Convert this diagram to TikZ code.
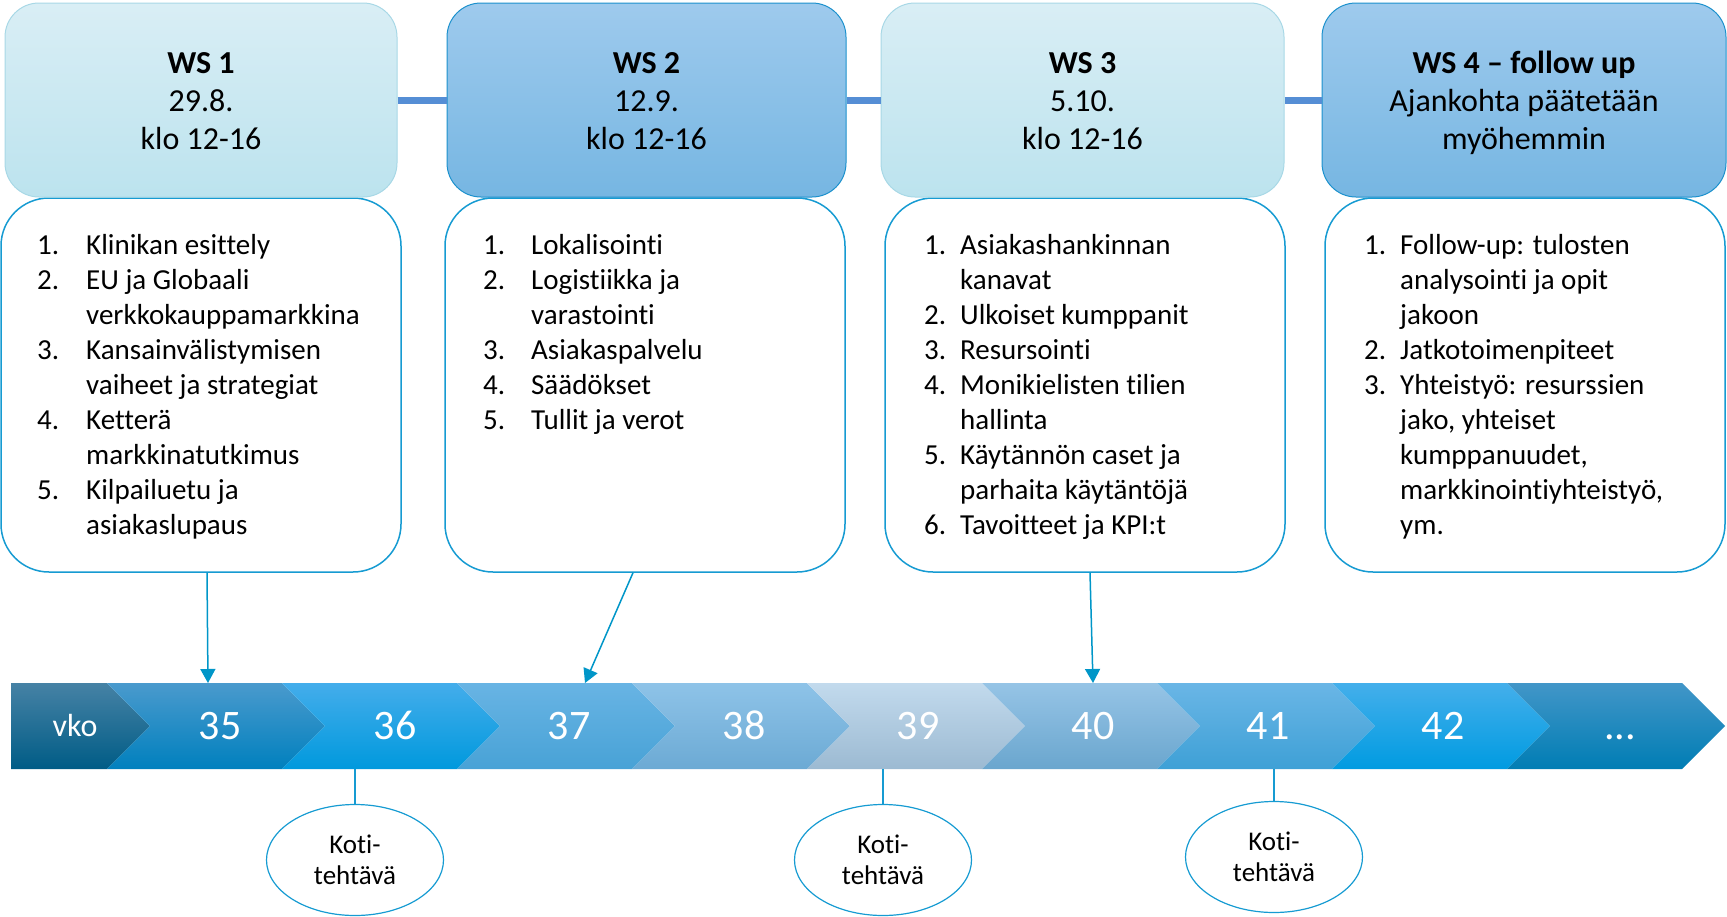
\documentclass[tikz,border=0pt]{standalone}
\usepackage{fontspec}
\setmainfont{Carlito}[Ligatures=NoCommon]
\usetikzlibrary{arrows.meta,shapes.geometric,calc}

\definecolor{hlT}{RGB}{217,238,245}
\definecolor{hlB}{RGB}{188,227,238}
\definecolor{hlD}{RGB}{168,216,230}
\definecolor{hdT}{RGB}{158,202,237}
\definecolor{hdB}{RGB}{118,182,226}
\definecolor{hdD}{RGB}{28,145,205}
\definecolor{boxline}{RGB}{22,155,210}
\definecolor{arrcol}{RGB}{0,150,200}
\definecolor{linkcol}{RGB}{85,142,213}
\definecolor{segT0}{RGB}{70,130,165}\definecolor{segB0}{RGB}{0,92,134}
\definecolor{segT1}{RGB}{74,154,205}\definecolor{segB1}{RGB}{0,128,190}
\definecolor{segT2}{RGB}{68,173,235}\definecolor{segB2}{RGB}{0,153,221}
\definecolor{segT3}{RGB}{104,180,228}\definecolor{segB3}{RGB}{72,162,214}
\definecolor{segT4}{RGB}{142,195,232}\definecolor{segB4}{RGB}{108,170,212}
\definecolor{segT5}{RGB}{194,218,237}\definecolor{segB5}{RGB}{156,186,210}
\definecolor{segT6}{RGB}{150,196,230}\definecolor{segB6}{RGB}{106,166,206}
\definecolor{segT7}{RGB}{106,182,230}\definecolor{segB7}{RGB}{62,160,214}
\definecolor{segT8}{RGB}{68,175,235}\definecolor{segB8}{RGB}{0,155,225}
\definecolor{segT9}{RGB}{66,150,200}\definecolor{segB9}{RGB}{0,125,180}

\newcommand\hdrfnt{\fontsize{32}{38}\selectfont}
\newcommand\lstfnt{\fontsize{29}{35}\selectfont}
\newcommand\nb[2]{\strut\makebox[#1][l]{#2}}
\newcommand\ind[1]{\strut\hspace*{#1}}

\begin{document}
\begin{tikzpicture}[x=1pt,y=-1pt,
  hdrlight/.style={rounded corners=34pt, draw=hlD, line width=1pt, top color=hlT, bottom color=hlB,
    minimum height=194pt, inner sep=0pt},
  hdrdark/.style={rounded corners=34pt, draw=hdD, line width=1pt, top color=hdT, bottom color=hdB,
    minimum height=194pt, inner sep=0pt},
  hdrtext/.style={anchor=north, inner sep=0pt, align=center, font=\hdrfnt},
  contentbox/.style={draw=boxline, line width=1.5pt, fill=white, rounded corners=48pt,
    minimum height=374pt, minimum width=400pt, inner sep=0pt},
  listtext/.style={anchor=north west, inner sep=0pt, align=left, font=\lstfnt},
  link/.style={draw=linkcol, line width=7pt},
  arr/.style={draw=arrcol, line width=1.5pt, -{Triangle[width=15pt,length=14pt]}},
  tick/.style={draw=boxline, line width=1.2pt},
  oval/.style={ellipse, draw=boxline, line width=1.2pt, minimum width=177pt, minimum height=111pt,
    inner sep=0pt, align=center, font=\fontsize{27}{31}\selectfont},
  seglbl/.style={anchor=base, text=white, inner sep=0pt, font=\fontsize{42}{42}\selectfont}
]
\useasboundingbox (0,0) rectangle (1727,916);

% content boxes
\node[contentbox] (c1) at (201,385) {};
\node[contentbox] (c2) at (645,385) {};
\node[contentbox] (c3) at (1085,385) {};
\node[contentbox] (c4) at (1525,385) {};

% headers
\node[hdrlight, minimum width=392pt] (h1) at (201,100) {};
\node[hdrdark, minimum width=399pt] (h2) at (646.5,100) {};
\node[hdrlight, minimum width=403pt] (h3) at (1082.5,100) {};
\node[hdrdark, minimum width=404pt] (h4) at (1524,100) {};
\node[hdrtext] (ht1) at (201,46.4) {\strut\textbf{WS 1}\\\strut 29.8.\\\strut klo 12-16};
\node[hdrtext] (ht2) at (646.5,46.4) {\strut\textbf{WS 2}\\\strut 12.9.\\\strut klo 12-16};
\node[hdrtext] (ht3) at (1082.5,46.4) {\strut\textbf{WS 3}\\\strut 5.10.\\\strut klo 12-16};
\node[hdrtext] (ht4) at (1524,46.4) {\strut\textbf{WS 4 – follow up}\\\strut Ajankohta päätetään\\\strut myöhemmin};
\draw[link] (h1.east) -- (h2.west);
\draw[link] (h2.east) -- (h3.west);
\draw[link] (h3.east) -- (h4.west);

% lists
\node[listtext] (t1) at (37,229.5) {%
\nb{49pt}{1.}Klinikan esittely\\
\nb{49pt}{2.}EU ja Globaali\\
\ind{49pt}verkkokauppamarkkina\\
\nb{49pt}{3.}Kansainvälistymisen\\
\ind{49pt}vaiheet ja strategiat\\
\nb{49pt}{4.}Ketterä\\
\ind{49pt}markkinatutkimus\\
\nb{49pt}{5.}Kilpailuetu ja\\
\ind{49pt}asiakaslupaus};
\node[listtext] (t2) at (483,229.5) {%
\nb{48pt}{1.}Lokalisointi\\
\nb{48pt}{2.}Logistiikka ja\\
\ind{48pt}varastointi\\
\nb{48pt}{3.}Asiakaspalvelu\\
\nb{48pt}{4.}Säädökset\\
\nb{48pt}{5.}Tullit ja verot};
\node[listtext] (t3) at (924,229.5) {%
\nb{36pt}{1.}Asiakashankinnan\\
\ind{36pt}kanavat\\
\nb{36pt}{2.}Ulkoiset kumppanit\\
\nb{36pt}{3.}Resursointi\\
\nb{36pt}{4.}Monikielisten tilien\\
\ind{36pt}hallinta\\
\nb{36pt}{5.}Käytännön caset ja\\
\ind{36pt}parhaita käytäntöjä\\
\nb{36pt}{6.}Tavoitteet ja KPI:t};
\node[listtext] (t4) at (1364,229.5) {%
\nb{36pt}{1.}Follow-up: tulosten\\
\ind{36pt}analysointi ja opit\\
\ind{36pt}jakoon\\
\nb{36pt}{2.}Jatkotoimenpiteet\\
\nb{36pt}{3.}Yhteistyö: resurssien\\
\ind{36pt}jako, yhteiset\\
\ind{36pt}kumppanuudet,\\
\ind{36pt}markkinointiyhteistyö,\\
\ind{36pt}ym.};

% chevron band
\path[top color=segT0, bottom color=segB0] (11,683) -- (107,683) -- (150,726) -- (107,769) -- (11,769) -- cycle;
\foreach \i/\xa/\xb in {1/107/282, 2/282/457, 3/457/632, 4/632/807, 5/807/982, 6/982/1157, 7/1157/1332, 8/1332/1507, 9/1507/1682}{
  \path[top color=segT\i, bottom color=segB\i]
    (\xa,683) -- (\xb,683) -- (\xb+43,726) -- (\xb,769) -- (\xa,769) -- (\xa+43,726) -- cycle;
}
\node[seglbl, font=\fontsize{32}{32}\selectfont] (lvko) at (75,736) {vko};
\node[seglbl] (l35) at (220,739) {35};
\node[seglbl] (l36) at (395,739) {36};
\node[seglbl] (l37) at (569,739) {37};
\node[seglbl] (l38) at (744,739) {38};
\node[seglbl] (l39) at (918,739) {39};
\node[seglbl] (l40) at (1093,739) {40};
\node[seglbl] (l41) at (1268,739) {41};
\node[seglbl] (l42) at (1443,739) {42};
\node[seglbl] (ldots) at (1620,739) {...};

% arrow targets on band top
\coordinate (a35) at (208,683);
\coordinate (a37) at (585,683);
\coordinate (a40) at (1093,683);
\draw[arr] ([xshift=6pt]c1.south) -- (a35);
\draw[arr] ([xshift=-12pt]c2.south) -- (a37);
\draw[arr] ([xshift=5pt]c3.south) -- (a40);

% homework ovals
\node[oval] (o1) at (355,860) {Koti-\\tehtävä};
\node[oval] (o2) at (883,860) {Koti-\\tehtävä};
\node[oval] (o3) at (1274,857) {Koti-\\tehtävä};
\coordinate (b36) at (355,769);
\coordinate (b39) at (883,769);
\coordinate (b41) at (1274,769);
\draw[tick] (b36) -- (o1.north);
\draw[tick] (b39) -- (o2.north);
\draw[tick] (b41) -- (o3.north);
\end{tikzpicture}
\end{document}
